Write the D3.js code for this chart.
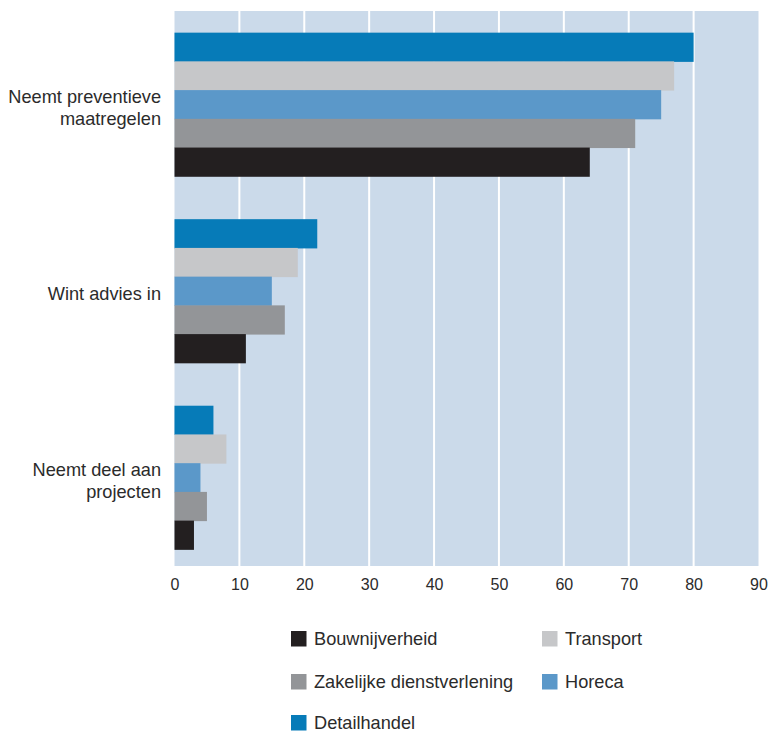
<!DOCTYPE html>
<html><head><meta charset="utf-8">
<script src="https://cdn.jsdelivr.net/npm/d3@7"></script>
<style>body{margin:0;background:#fff;} text{font-family:"Liberation Sans", Arial, sans-serif;}</style>
</head><body>
<svg id="chart" width="770" height="732"></svg>
<script>
const categories = ["Neemt preventieve maatregelen", "Wint advies in", "Neemt deel aan projecten"];
const categoryLines = [["Neemt preventieve", "maatregelen"], ["Wint advies in"], ["Neemt deel aan", "projecten"]];
const seriesNames = ["Detailhandel", "Transport", "Horeca", "Zakelijke dienstverlening", "Bouwnijverheid"];
const detailhandel = [80, 22, 6];
const transport = [77, 19, 8];
const horeca = [75, 15, 4];
const zakelijke = [71, 17, 5];
const bouwnijverheid = [64, 11, 3];
const seriesValues = [detailhandel, transport, horeca, zakelijke, bouwnijverheid];
const colors = ["#067bb8", "#c6c7c9", "#5b98c9", "#939598", "#231f20"];
const xTicks = [0, 10, 20, 30, 40, 50, 60, 70, 80, 90];
const legendOrder = ["Bouwnijverheid", "Transport", "Zakelijke dienstverlening", "Horeca", "Detailhandel"];

const svg = d3.select("#chart");
const x = d3.scaleLinear().domain([0, 90]).range([174.5, 758.5]);
const plotTop = 11, plotBottom = 566;
const y = d3.scaleBand().domain(categories).range([14, 568]).paddingInner(0.23).paddingOuter(0.1);
const ySeries = d3.scaleBand().domain(seriesNames).range([0, y.bandwidth()]);

svg.append("rect").attr("x", x(0)).attr("y", plotTop).attr("width", x(90) - x(0)).attr("height", plotBottom - plotTop).attr("fill", "#cbdaea");

svg.append("g").selectAll("line").data(xTicks.slice(1, -1)).join("line")
  .attr("x1", d => x(d)).attr("x2", d => x(d)).attr("y1", plotTop).attr("y2", plotBottom)
  .attr("stroke", "#fff").attr("stroke-width", 2);

const g = svg.append("g").selectAll("g").data(categories).join("g")
  .attr("transform", c => `translate(0,${y(c)})`);
g.selectAll("rect").data((c, i) => seriesNames.map((s, k) => ({s, v: seriesValues[k][i], k}))).join("rect")
  .attr("x", x(0)).attr("y", d => ySeries(d.s)).attr("height", ySeries.bandwidth() + 0.5)
  .attr("width", d => x(d.v) - x(0)).attr("fill", d => colors[d.k]);

// category labels
categories.forEach((c, i) => {
  const lines = categoryLines[i];
  const cy = y(c) + y.bandwidth() / 2 + 3;
  const lh = 21.5;
  const t = svg.append("text").attr("text-anchor", "end").attr("fill", "#2b2b2b").attr("font-size", 18.2);
  lines.forEach((l, j) => {
    t.append("tspan").attr("x", 161).attr("y", cy + (j - (lines.length - 1) / 2) * lh).attr("dy", "0.35em").text(l);
  });
});

// x axis
const axis = d3.axisBottom(x).tickValues(xTicks).tickSize(0).tickPadding(0);
const ax = svg.append("g").attr("transform", `translate(0,${plotBottom + 13})`).call(axis);
ax.select(".domain").remove();
ax.selectAll("text").attr("font-size", 16).attr("fill", "#2b2b2b").attr("font-family", "'Liberation Sans', Arial, sans-serif");

// legend
const legPos = [[291, 639], [542, 639], [291, 682], [542, 682], [291, 723]];
legendOrder.forEach((name, i) => {
  const [lx, ly] = legPos[i];
  const k = seriesNames.indexOf(name);
  svg.append("rect").attr("x", lx).attr("y", ly - 8).attr("width", 15.5).attr("height", 15.5).attr("fill", colors[k]);
  svg.append("text").attr("x", lx + 23).attr("y", ly).attr("dy", "0.35em").attr("font-size", 18.2).attr("fill", "#2b2b2b").text(name);
});
</script>
</body></html>
